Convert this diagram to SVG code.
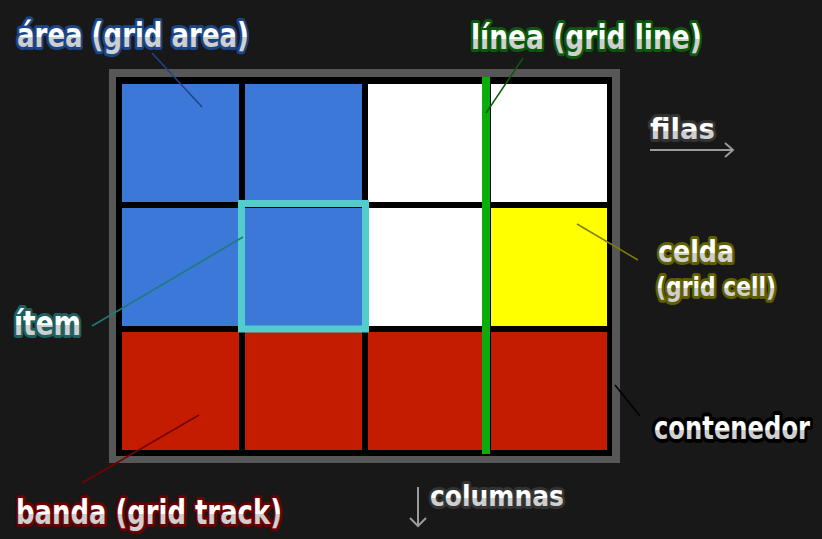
<svg xmlns="http://www.w3.org/2000/svg" width="822" height="539" viewBox="0 0 822 539">
<style>
.lbl{font-family:"DejaVu Sans","Liberation Sans",sans-serif;font-weight:bold;fill:url(#tg);stroke-width:6;paint-order:stroke;stroke-linejoin:round}
.blue{fill:#3c78d8}.white{fill:#ffffff}.yellow{fill:#ffff00}.red{fill:#c41c00}
.lead{stroke-width:1.5;fill:none}
.arr{stroke:#9a9a9a;stroke-width:2;fill:none}
</style>
<defs>
<linearGradient id="tg" x1="0" y1="0" x2="0" y2="1">
<stop offset="0" stop-color="#ffffff"/><stop offset="0.55" stop-color="#ffffff"/><stop offset="0.55" stop-color="#cfcfcf"/><stop offset="1" stop-color="#cfcfcf"/>
</linearGradient>
</defs>
<rect width="822" height="539" fill="#181818"/>
<g id="contenedor-box">
<rect x="109" y="69" width="511" height="394" fill="#575757"/>
<rect x="116" y="77" width="496" height="379" fill="#000"/>
</g>
<g id="cells">
<rect class="blue" x="122" y="84" width="117" height="118"/>
<rect class="blue" x="245" y="84" width="117" height="118"/>
<rect class="white" x="368" y="84" width="117" height="118"/>
<rect class="white" x="491" y="84" width="116" height="118"/>
<rect class="blue" x="122" y="208" width="117" height="118"/>
<rect class="blue" x="245" y="208" width="117" height="118"/>
<rect class="white" x="368" y="208" width="117" height="118"/>
<rect class="yellow" x="491" y="208" width="116" height="118"/>
<rect class="red" x="122" y="332" width="117" height="118"/>
<rect class="red" x="245" y="332" width="117" height="118"/>
<rect class="red" x="368" y="332" width="117" height="118"/>
<rect class="red" x="491" y="332" width="116" height="118"/>
</g>
<g id="item"><rect x="241.5" y="203.5" width="124" height="125.5" fill="none" stroke="#52cccc" stroke-width="7"/></g>
<g id="grid-line"><rect x="482" y="77" width="8" height="377" fill="#0aad0a"/></g>
<g id="connectors">
<line class="lead" x1="152" y1="53" x2="202" y2="107" stroke="#1c4587"/>
<line class="lead" x1="523" y1="58" x2="486" y2="113" stroke="#0b5a0b"/>
<line class="lead" x1="577" y1="224" x2="638" y2="260" stroke="#7f7f00"/>
<line class="lead" x1="243" y1="237" x2="92" y2="326" stroke="#1f7a7a"/>
<line class="lead" x1="615" y1="385" x2="640" y2="416" stroke="#000"/>
<line class="lead" x1="199" y1="415" x2="82" y2="483" stroke="#7a0000"/>
<path class="arr" d="M650 150H733M725 143L733 150L725 157"/>
<path class="arr" d="M418 487V526M410 518L418 526L426 518"/>
</g>
<g id="label-area"><text class="lbl" x="17" y="47" font-size="33" textLength="232" lengthAdjust="spacingAndGlyphs" stroke="#1c4587">área (grid area)</text></g>
<g id="label-linea"><text class="lbl" x="471" y="49" font-size="33" textLength="231" lengthAdjust="spacingAndGlyphs" stroke="#0b5a0b">línea (grid line)</text></g>
<g id="label-filas"><text class="lbl" x="650" y="139" font-size="29" textLength="65" lengthAdjust="spacingAndGlyphs" stroke="#333">filas</text></g>
<g id="label-celda"><text class="lbl" x="658" y="262" font-size="31" textLength="76" lengthAdjust="spacingAndGlyphs" stroke="#5f5f00">celda</text>
<text class="lbl" x="656" y="296" font-size="26" textLength="120" lengthAdjust="spacingAndGlyphs" stroke="#5f5f00">(grid cell)</text></g>
<g id="label-item"><text class="lbl" x="14" y="335" font-size="33" textLength="67" lengthAdjust="spacingAndGlyphs" stroke="#1f5f5f">ítem</text></g>
<g id="label-contenedor"><text class="lbl" transform="translate(654 439) scale(1 1.3)" x="0" y="0" font-size="24" textLength="156" lengthAdjust="spacingAndGlyphs" stroke="#000" stroke-width="5">contenedor</text></g>
<g id="label-banda"><text class="lbl" x="16" y="524" font-size="34" textLength="266" lengthAdjust="spacingAndGlyphs" stroke="#6b0000">banda (grid track)</text></g>
<g id="label-columnas"><text class="lbl" x="430" y="506" font-size="29" textLength="134" lengthAdjust="spacingAndGlyphs" stroke="#333">columnas</text></g>
</svg>
